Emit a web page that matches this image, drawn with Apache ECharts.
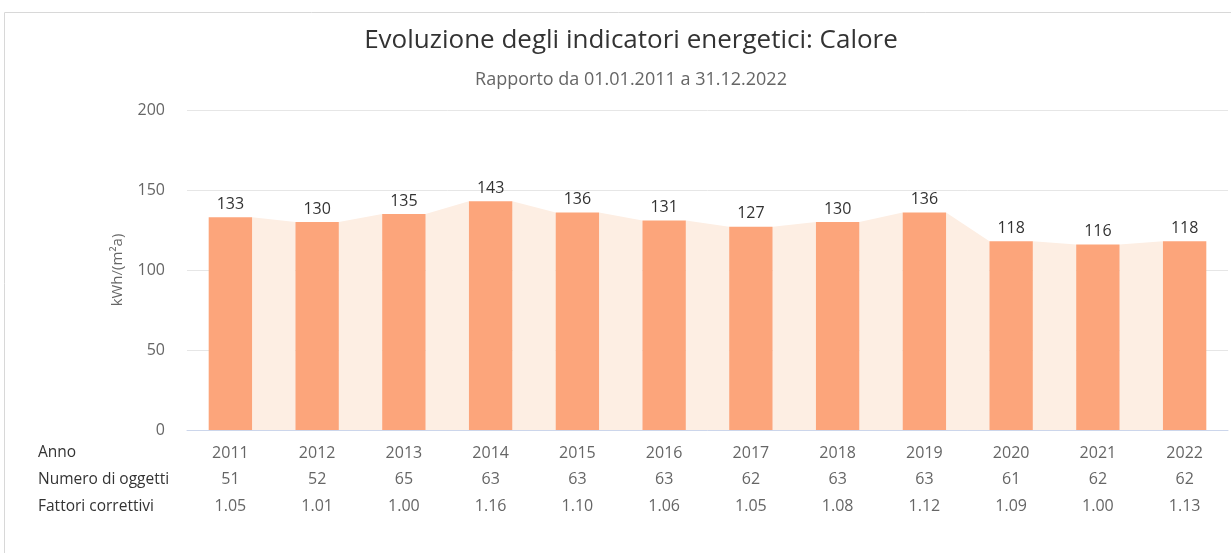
<!DOCTYPE html>
<html>
<head>
<meta charset="utf-8">
<script src="https://cdn.jsdelivr.net/npm/echarts@6/dist/echarts.min.js"></script>
<style>
    html, body { margin: 0; padding: 0; background: #fff; }
    #main { width: 1231px; height: 553px; }
</style>
</head>
<body>
<div id="main"></div>
<script>
    var years = ['2011', '2012', '2013', '2014', '2015', '2016', '2017', '2018', '2019', '2020', '2021', '2022'];
    var values = [133, 130, 135, 143, 136, 131, 127, 130, 136, 118, 116, 118];
    var objects = [51, 52, 65, 63, 63, 63, 62, 63, 63, 61, 62, 62];
    var factors = ['1.05', '1.01', '1.00', '1.16', '1.10', '1.06', '1.05', '1.08', '1.12', '1.09', '1.00', '1.13'];
    var rowTitles = ['Anno', 'Numero di oggetti', 'Fattori correttivi'];

    var FONT = 'Open Sans';

    // band pieces between two bars: [index, value, next value]
    var bandData = [];
    for (var i = 0; i < values.length - 1; i++) {
        bandData.push([i, values[i], values[i + 1]]);
    }

    function renderBand(params, api) {
        var idx = api.value(0);
        var p1 = api.coord([idx, api.value(1)]);
        var p2 = api.coord([idx + 1, api.value(2)]);
        var base = api.coord([idx, 0]);
        var half = api.size([1, 0])[0] * 0.25;
        return {
            type: 'polygon',
            shape: {
                points: [
                    [p1[0] + half, p1[1]],
                    [p2[0] - half, p2[1]],
                    [p2[0] - half, base[1]],
                    [p1[0] + half, base[1]]
                ]
            },
            style: { fill: '#fdeee3' },
            silent: true
        };
    }

    var chart = echarts.init(document.getElementById('main'));
    var option = {
        animation: false,
        textStyle: { fontFamily: FONT },
        title: [{
            text: 'Evoluzione degli indicatori energetici: Calore',
            left: 626,
            top: 23,
            textAlign: 'center',
            textStyle: { fontSize: 26, fontWeight: 'normal', color: '#333', fontFamily: FONT }
        }, {
            text: 'Rapporto da 01.01.2011 a 31.12.2022',
            left: 626,
            top: 66,
            textAlign: 'center',
            textStyle: { fontSize: 18, fontWeight: 'normal', color: '#666', fontFamily: FONT }
        }],
        graphic: [{
            type: 'rect',
            shape: { x: 4.5, y: 12.5, width: 1260, height: 600 },
            style: { fill: 'none', stroke: '#d8d8d8', lineWidth: 1 },
            silent: true
        }, {
            type: 'group',
            left: 38,
            top: 445,
            children: rowTitles.map(function(t, k) {
                return {
                    type: 'text',
                    x: 0,
                    y: k * 27,
                    style: { text: t, fill: '#333', font: '15.5px "' + FONT + '"' }
                };
            })
        }],
        grid: { left: 187, right: 3, top: 110, bottom: 123, containLabel: false },
        xAxis: {
            type: 'category',
            data: years,
            axisLine: { lineStyle: { color: '#ccd6eb' } },
            axisTick: { show: false },
            axisLabel: {
                margin: 10,
                color: '#666',
                fontSize: 16,
                lineHeight: 26.5,
                formatter: function(value, index) {
                    return value + '\n' + objects[index] + '\n' + factors[index];
                }
            }
        },
        yAxis: {
            type: 'value',
            min: 0,
            max: 200,
            interval: 50,
            name: 'kWh/(m²a)',
            nameLocation: 'middle',
            nameGap: 62,
            nameTextStyle: { color: '#666', fontSize: 15 },
            axisLine: { show: false },
            axisTick: { show: false },
            axisLabel: { color: '#666', fontSize: 16, margin: 22 },
            splitLine: { lineStyle: { color: '#e6e6e6' } }
        },
        series: [{
            type: 'custom',
            renderItem: renderBand,
            data: bandData,
            z: 1
        }, {
            type: 'bar',
            data: values,
            barWidth: '50%',
            itemStyle: { color: '#fca57b' },
            label: {
                show: true,
                position: 'top',
                distance: 5,
                color: '#333',
                fontSize: 16
            },
            z: 2
        }]
    };
    chart.setOption(option);
</script>
</body>
</html>
